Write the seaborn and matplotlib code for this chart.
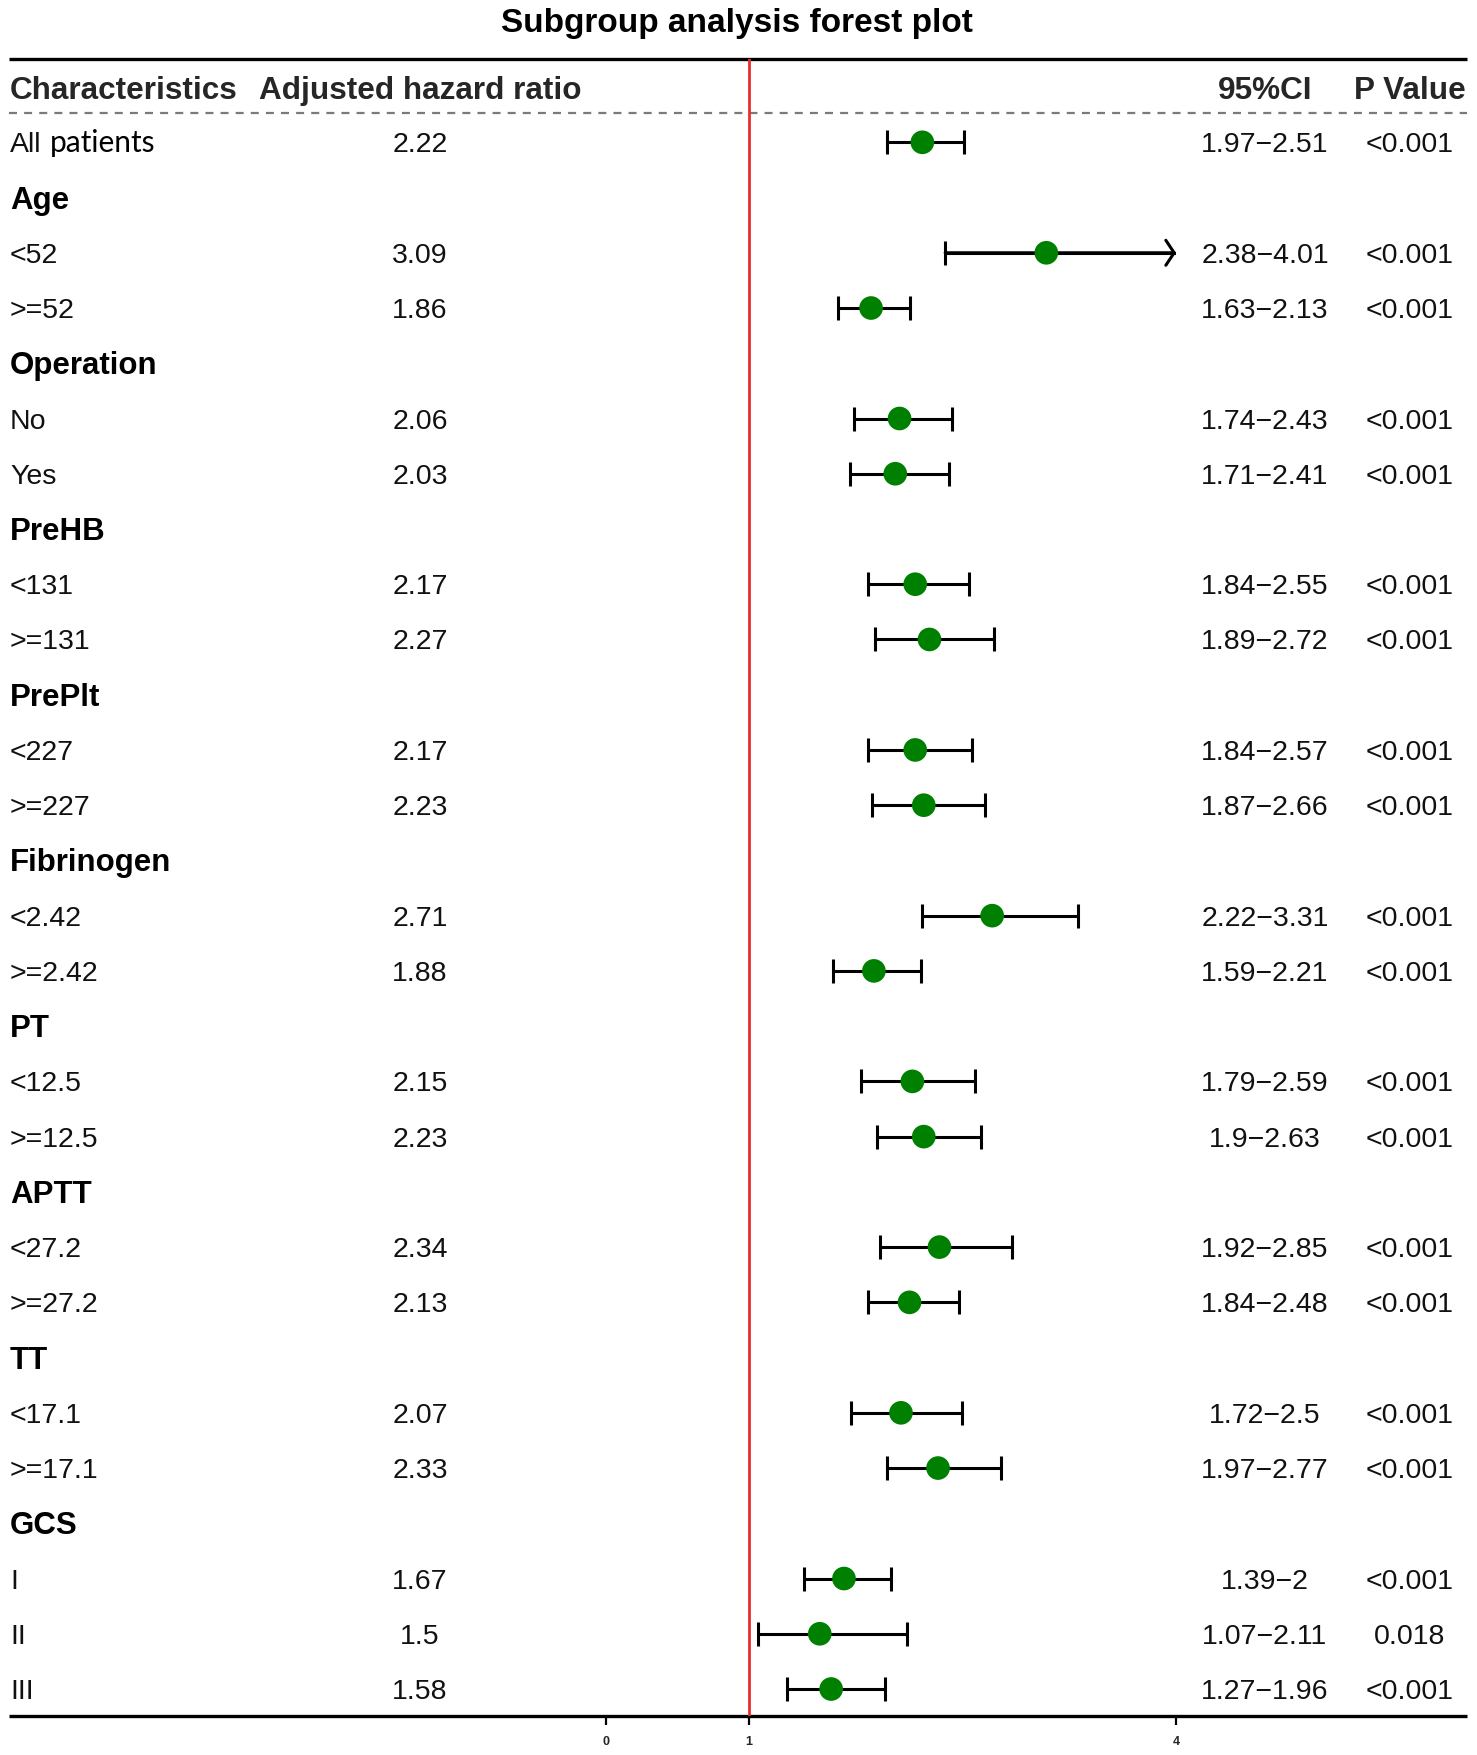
import numpy as np
import pandas as pd
import matplotlib
matplotlib.use("Agg")
import matplotlib.pyplot as plt
import seaborn as sns

# ---------------- data ----------------
title = "Subgroup analysis forest plot"
headers = ["Characteristics", "Adjusted hazard ratio", "95%CI", "P Value"]

labels = ["All patients", "Age", "<52", ">=52", "Operation", "No", "Yes",
          "PreHB", "<131", ">=131", "PrePlt", "<227", ">=227",
          "Fibrinogen", "<2.42", ">=2.42", "PT", "<12.5", ">=12.5",
          "APTT", "<27.2", ">=27.2", "TT", "<17.1", ">=17.1",
          "GCS", "I", "II", "III"]
is_group = [False, True, False, False, True, False, False,
            True, False, False, True, False, False,
            True, False, False, True, False, False,
            True, False, False, True, False, False,
            True, False, False, False]
hr = [2.22, None, 3.09, 1.86, None, 2.06, 2.03,
      None, 2.17, 2.27, None, 2.17, 2.23,
      None, 2.71, 1.88, None, 2.15, 2.23,
      None, 2.34, 2.13, None, 2.07, 2.33,
      None, 1.67, 1.5, 1.58]
ci_low = [1.97, None, 2.38, 1.63, None, 1.74, 1.71,
          None, 1.84, 1.89, None, 1.84, 1.87,
          None, 2.22, 1.59, None, 1.79, 1.9,
          None, 1.92, 1.84, None, 1.72, 1.97,
          None, 1.39, 1.07, 1.27]
ci_high = [2.51, None, 4.01, 2.13, None, 2.43, 2.41,
           None, 2.55, 2.72, None, 2.57, 2.66,
           None, 3.31, 2.21, None, 2.59, 2.63,
           None, 2.85, 2.48, None, 2.5, 2.77,
           None, 2, 2.11, 1.96]
p_values = ["<0.001", "", "<0.001", "<0.001", "", "<0.001", "<0.001",
            "", "<0.001", "<0.001", "", "<0.001", "<0.001",
            "", "<0.001", "<0.001", "", "<0.001", "<0.001",
            "", "<0.001", "<0.001", "", "<0.001", "<0.001",
            "", "<0.001", "0.018", "<0.001"]
x_ticks = [0, 1, 4]
x_limits = (0, 4)
ref_value = 1

# ---------------- layout (pixels) ----------------
W, H = 1477, 1755
ROW0, ROWH = 142.3, 55.24
TOP, DASH, BOT = 59, 113, 1716
LEFT, RIGHT = 9, 1467
FX0, FX1 = 606, 1176
COL_HR, COL_CI, COL_P = 420, 1265, 1410

sns.set_style("white")
plt.rcParams["font.family"] = ["Liberation Sans", "DejaVu Sans"]

fig = plt.figure(figsize=(W / 100, H / 100), dpi=100)
tax = fig.add_axes([0, 0, 1, 1])
tax.set_xlim(0, W)
tax.set_ylim(H, 0)
tax.axis("off")

fax = fig.add_axes([FX0 / W, 1 - BOT / H, (FX1 - FX0) / W, (BOT - TOP) / H])
fax.patch.set_alpha(0)

# table frame lines
tax.plot([LEFT, RIGHT], [TOP, TOP], color="black", lw=2.4, solid_capstyle="butt")
tax.plot([LEFT, RIGHT], [BOT, BOT], color="black", lw=2.4, solid_capstyle="butt")
tax.plot([LEFT, RIGHT], [DASH, DASH], color="#7a7a7a", lw=1.6,
         ls=(0, (3.6, 3.2)))

# title & headers
tax.text(737, 32, title, ha="center", va="baseline", fontsize=24,
         fontweight="bold", color="black")
HB = 99
tax.text(LEFT + 1, HB, headers[0], ha="left", va="baseline", fontsize=22.7, fontweight="bold")
tax.text(COL_HR, HB, headers[1], ha="center", va="baseline", fontsize=22.7, fontweight="bold")
tax.text(COL_CI, HB, headers[2], ha="center", va="baseline", fontsize=22.7, fontweight="bold")
tax.text(COL_P, HB, headers[3], ha="center", va="baseline", fontsize=22.7, fontweight="bold")

fmt = lambda v: f"{v:g}"
for i, lab in enumerate(labels):
    y = ROW0 + i * ROWH
    if is_group[i]:
        tax.text(LEFT + 1, y + 11, lab, ha="left", va="baseline",
                 fontsize=22.5, fontweight="bold", color="black")
        continue
    if lab == "All patients":
        first, rest = lab.split(" ", 1)
        tax.text(LEFT + 1, y + 10, first, ha="left", va="baseline",
                 fontsize=20.5, color="#111111")
        tax.text(LEFT + 41, y + 10, rest, ha="left", va="baseline",
                 fontsize=21.5, color="black", family=["Lato", "DejaVu Sans"])
    else:
        tax.text(LEFT + 1, y + 10, lab, ha="left", va="baseline",
                 fontsize=20.5, color="#111111")
    tax.text(COL_HR, y + 10, fmt(hr[i]), ha="center", va="baseline",
             fontsize=20.5, color="#111111")
    tax.text(COL_CI, y + 10, f"{fmt(ci_low[i])}\u2212{fmt(ci_high[i])}",
             ha="center", va="baseline", fontsize=20.5, color="#111111")
    tax.text(COL_P, y + 10, p_values[i], ha="center", va="baseline",
             fontsize=20.5, color="#111111")

# ---------------- forest column ----------------
df = pd.DataFrame({"row": np.arange(len(labels)), "hr": hr,
                   "lo": ci_low, "hi": ci_high}).dropna()
df["hi_clip"] = df["hi"].clip(upper=x_limits[1])
df["clipped"] = df["hi"] > x_limits[1]

fax.axvline(ref_value, color="#e8302a", lw=2.0, zorder=1)

fax.hlines(df["row"], df["lo"], df["hi_clip"], color="black", lw=2.2, zorder=2)
fax.plot(df["lo"], df["row"], ls="none", marker="|", ms=17.5, mew=2.2,
         color="black", zorder=2)
nc = df[~df["clipped"]]
fax.plot(nc["hi"], nc["row"], ls="none", marker="|", ms=17.5, mew=2.2,
         color="black", zorder=2)
for _, r in df[df["clipped"]].iterrows():
    fax.annotate("", xy=(r["hi_clip"], r["row"]), xytext=(r["lo"], r["row"]),
                 arrowprops=dict(arrowstyle="->,head_length=0.3,head_width=0.45",
                                 lw=2.2, color="black", shrinkA=0, shrinkB=0,
                                 mutation_scale=20), zorder=2)

sns.scatterplot(data=df, x="hr", y="row", ax=fax, color="#008000", s=290,
                edgecolor="none", linewidth=0, zorder=3, legend=False)

fax.set_xlim(*x_limits)
fax.set_ylim((BOT - ROW0) / ROWH, (TOP - ROW0) / ROWH)
for s in fax.spines.values():
    s.set_visible(False)
fax.set_yticks([])
fax.set_xticks(x_ticks)
fax.set_xticklabels([str(t) for t in x_ticks], fontsize=9, fontweight="bold")
fax.tick_params(axis="x", direction="out", length=6.5, width=1.6, pad=8,
                bottom=True, color="black")
fax.set_xlabel("")
fax.set_ylabel("")

fig.savefig("out.png", dpi=100, facecolor="white")
